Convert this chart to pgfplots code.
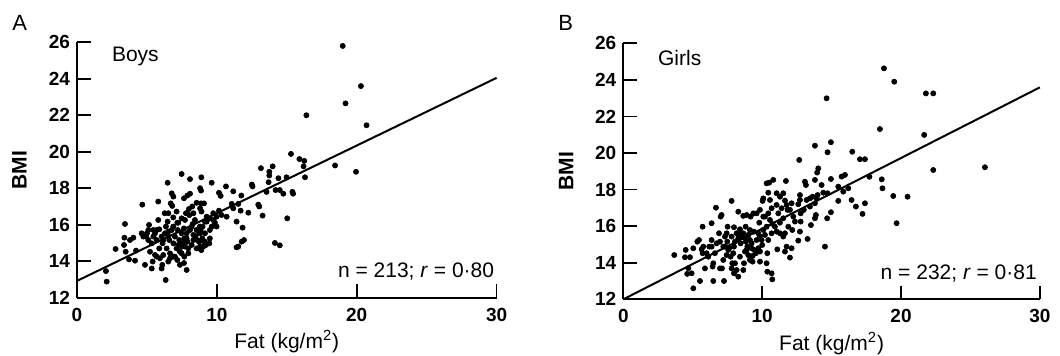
\documentclass[border=0pt]{standalone}
\usepackage{pgfplots}
\pgfplotsset{compat=1.18}
\usepackage{fontspec}
\setmainfont{Liberation Sans}
\newcommand\txt{\fontsize{10.5pt}{12pt}\selectfont}
\newcommand\tck{\fontsize{9.5pt}{11pt}\selectfont\bfseries}

\pgfplotsset{
  panel/.style={
    scale only axis,
    xmin=0, xmax=30, ymin=12, ymax=26,
    axis x line=bottom, axis y line=left,
    axis line style={-, line width=0.9pt},
    xtick={0,10,20,30}, ytick={12,14,...,26},
    tick align=inside,
    major tick length=6.8pt,
    tick style={line width=0.8pt, black},
    /pgf/number format/assume math mode=true,
    ticklabel style={font=\tck},
    xticklabel style={yshift=-1.5pt},
    ylabel={\bfseries BMI},
    ylabel style={font=\fontsize{10.5pt}{12pt}\selectfont, at={(axis description cs:-0.137,0.5)}, anchor=center, rotate=0},
    xlabel={Fat (kg/m\textsuperscript{2})},
    xlabel style={font=\txt, at={(axis description cs:0.5,-0.172)}, anchor=center},
    clip=false,
  },
  dots/.style={only marks, mark=*, mark size=1.3pt, black, mark options={fill=black, draw=black, line width=0.3pt}},
  fit/.style={no marks, black, line width=1pt},
}

\begin{document}
\begin{tikzpicture}
\useasboundingbox (0,0) rectangle (530pt,178pt);
\node[anchor=west, font=\fontsize{11pt}{12pt}\selectfont, inner sep=0pt] at (6pt,166.5pt) {A};
\node[anchor=west, font=\fontsize{11pt}{12pt}\selectfont, inner sep=0pt] at (279pt,166.5pt) {B};

% Panel A: Boys
\begin{axis}[panel, at={(38.5pt,29.15pt)}, anchor=south west, width=209.8pt, height=127.7pt]
\addplot[dots] coordinates {
(19.0,25.8) (20.3,23.6) (19.2,22.65) (20.7,21.45) (16.4,22.0) (18.45,19.25) (19.95,18.9)
(15.3,19.88) (15.9,19.6) (16.25,19.5) (16.2,19.2) (16.3,18.6) (15.4,17.8) (15.45,17.7) (15.03,16.35)
(13.15,19.1) (13.99,19.2) (13.75,18.9) (13.75,18.7) (14.4,18.55) (14.98,18.6) (13.7,18.33)
(14.2,17.9) (14.5,17.9) (14.75,17.7) (13.55,17.8) (12.5,18.2) (12.55,18.1) (12.96,17.1) (13.03,17.0)
(13.27,16.5) (14.15,15.0) (14.5,14.87) (11.75,17.6) (11.17,17.83) (10.65,18.1) (10.15,17.75)
(10.27,17.58) (9.63,18.3) (8.89,18.6) (8.8,18.0) (8.87,17.87) (8.08,18.5) (7.48,18.78) (8.08,17.7)
(7.89,17.6) (6.48,18.3) (5.81,17.27) (4.67,17.1) (6.7,17.17) (6.81,17.03) (6.27,16.63) (7.12,16.72)
(6.88,16.4) (7.48,16.35) (7.72,16.26) (8.0,16.86) (8.24,17.0) (8.55,17.2) (8.87,17.17) (9.08,17.17)
(8.8,16.9) (8.9,16.72) (9.27,16.44) (9.5,16.35) (9.74,16.63) (9.98,16.44) (10.15,16.77) (10.34,16.53)
(10.7,16.44) (11.06,17.14) (11.17,16.9) (11.53,17.14) (11.7,16.77) (12.25,16.66) (11.41,16.17)
(11.84,15.84) (11.94,15.16) (11.77,15.07) (11.53,14.8) (11.41,14.76)
(3.43,16.04) (3.39,15.29) (3.36,14.89) (2.76,14.67) (3.79,15.16) (4.03,15.29) (3.48,14.52) (3.72,14.1)
(4.15,14.03) (4.22,14.58) (2.07,13.46) (2.12,12.88) (4.86,13.8) (5.41,13.98) (5.34,13.6) (6.1,13.8)
(6.05,13.6) (6.34,12.97) (7.36,13.8) (7.65,13.9) (7.84,13.52)
(4.62,15.53) (4.74,15.35) (5.15,15.99) (5.1,15.71) (5.1,15.16) (5.22,14.52) (5.58,15.53) (5.7,15.16)
(5.7,14.25) (5.81,16.26) (5.88,15.75) (5.88,14.7) (6.05,15.35) (6.12,14.98) (6.17,14.34) (6.29,15.53)
(6.41,14.7) (6.48,16.17) (6.53,15.62) (6.6,15.16) (6.65,14.43) (6.77,15.71) (6.89,14.98) (7.0,14.25)
(7.0,15.35) (7.12,14.7) (7.2,15.71) (7.31,15.16) (7.36,14.52) (7.48,15.53) (7.55,14.98) (7.65,15.8)
(7.67,15.25) (7.72,14.8) (7.84,15.53) (7.89,15.07) (7.96,14.7) (8.08,15.71) (8.27,16.04) (8.32,15.44)
(8.55,15.71) (8.6,15.16) (8.79,15.53) (8.79,14.8) (8.84,15.71) (9.03,14.8) (8.98,15.9) (9.15,15.53)
(9.27,16.17) (9.5,15.71) (9.5,15.25) (9.46,14.98) (9.63,15.9) (9.74,16.26) (9.86,16.11)
(6.89,17.54) (6.77,17.72) (7.65,17.45) (7.79,16.63) (8.03,16.53) (8.32,16.63) (8.43,16.26) (7.24,16.11)
(6.36,15.9) (6.53,16.63) (5.7,15.71) (5.46,15.35) (5.34,14.98) (4.94,15.35) (6.88,15.9) (7.17,16.11)
(8.48,15.38) (8.72,15.07) (8.96,15.25) (9.08,15.07) (9.22,14.89) (8.74,14.7) (8.89,14.61) (8.2,14.89)
(7.48,14.43) (6.88,14.25) (6.53,13.98) (5.93,14.16) (5.58,14.34) (6.65,14.16) (7.17,14.07) (7.67,14.25)
(7.96,14.43) (8.2,15.9) (8.79,15.9) (9.15,16.17) (9.98,15.9)
(6.17,15.16) (7.84,15.25) (7.48,14.8) (8.55,14.7) (9.15,15.07) (6.53,15.35) (7.24,14.89) (5.46,15.71)
(5.0,15.53) (8.32,15.16)
};
\addplot[fit] coordinates {(0,12.92) (30,24.05)};
\node[anchor=west, font=\txt] at (axis cs:2.0,25.2) {Boys};
\node[anchor=east, font=\txt, inner sep=0pt] at (axis cs:29.85,13.43) {n = 213; \textit{r} = 0·80};
\end{axis}

% Panel B: Girls
\begin{axis}[panel, at={(311.65pt,28.35pt)}, anchor=south west, width=208.3pt, height=128pt]
\addplot[dots] coordinates {
(18.77,24.63) (19.51,23.9) (21.79,23.26) (22.32,23.26) (14.64,22.99) (18.48,21.31) (21.67,20.99)
(26.04,19.22) (22.32,19.07) (13.8,20.4) (14.95,20.59) (14.71,20.04) (12.67,19.62) (16.49,20.07)
(17.04,19.66) (17.4,19.66) (17.72,18.7) (18.61,18.56) (18.66,18.07) (19.44,17.65) (20.47,17.61)
(19.68,16.16) (17.4,17.25) (17.23,16.67) (16.75,17.07) (16.44,17.43) (15.96,18.8) (15.72,18.71)
(15.84,17.89) (16.2,18.07) (15.48,18.16) (15.48,17.38) (14.95,18.58) (14.95,16.76) (14.68,16.43)
(14.52,14.88) (14.04,19.16) (13.96,18.93) (13.8,18.53) (14.28,18.25) (13.99,17.7) (13.92,17.52)
(13.8,17.25) (13.87,16.61) (13.8,16.43) (13.44,17.52) (13.44,17.07) (13.51,16.06) (13.27,15.3)
(13.08,18.43) (13.15,18.25) (12.72,17.7) (12.72,17.43) (12.6,17.2) (12.77,16.7) (12.77,16.25)
(12.72,15.7) (12.6,15.21) (12.12,17.25) (12.17,15.79) (12.12,14.79) (12.0,14.28) (11.71,18.47)
(11.52,17.8) (11.64,17.4) (11.76,17.16) (11.83,16.89) (11.52,16.43) (11.64,15.61) (11.64,14.61)
(11.04,17.16) (11.16,16.7) (11.28,16.19) (11.04,15.7) (11.09,14.73) (10.8,18.53) (10.51,18.38)
(10.32,18.34) (10.44,17.83) (10.08,17.52) (10.03,17.38) (10.68,16.98) (10.44,16.7) (10.2,16.52)
(10.56,16.34) (10.75,16.12) (10.32,15.97) (10.08,15.79) (10.2,15.52) (10.44,15.24) (10.37,14.52)
(10.32,13.97) (10.37,13.51) (10.73,13.09) (9.79,16.19) (9.6,16.7) (9.36,16.7) (9.17,16.52)
(8.88,16.61) (8.64,16.56) (8.28,16.79) (7.8,17.38) (6.67,17.01) (7.01,16.52) (7.08,16.61)
(6.36,16.16) (5.71,15.97) (7.51,15.97) (7.97,15.94) (8.4,15.83) (8.81,15.97) (9.12,15.79) (9.41,15.7)
(9.72,15.61) (9.84,15.43) (9.6,15.24) (9.24,15.06) (8.93,14.88) (8.76,14.61) (9.0,14.42) (9.31,14.37)
(9.84,14.06) (9.31,14.06) (9.12,14.15) (8.69,13.97) (8.64,13.6) (8.16,13.6) (8.28,13.24) (7.97,13.42)
(7.85,13.97) (7.73,14.33) (7.56,14.7) (7.32,14.88) (7.2,14.15) (7.1,13.69) (6.96,13.69) (7.25,13.0)
(6.43,13.79) (6.48,13.97) (6.48,13.0) (5.88,13.69) (5.52,13.0) (5.04,12.6) (4.92,13.42) (4.68,13.7)
(4.6,13.39) (3.67,14.42) (4.49,14.7) (4.44,14.3) (4.8,14.3) (5.04,14.79) (5.33,15.15) (5.45,15.24)
(5.64,14.73) (5.71,14.52) (6.0,14.52) (6.12,14.33) (6.36,15.24) (6.36,14.88) (6.6,14.52) (6.72,15.06)
(6.89,15.61) (6.96,15.15) (7.2,14.88) (7.32,15.43) (7.44,15.61) (7.49,15.15) (7.63,14.79) (7.8,15.43)
(7.97,14.88) (8.04,15.15) (8.16,15.61) (8.28,15.34) (8.35,15.61) (8.45,15.06) (8.59,15.43) (8.64,15.61)
(8.76,15.34) (8.83,15.15) (9.0,15.52) (9.12,15.24) (8.88,14.7) (9.24,14.79) (9.41,14.7) (9.55,14.52)
(9.72,14.79) (9.96,15.24) (10.0,14.97) (9.84,14.61) (8.04,13.97) (7.8,13.69) (8.4,14.33) (5.76,14.88)
(6.19,14.88) (7.92,14.52) (7.44,14.42) (10.68,13.42) (10.08,16.52) (9.84,16.89) (10.56,17.43)
(11.04,17.8) (11.28,17.61) (11.4,16.98) (12.0,16.89) (12.24,16.52) (12.36,16.25) (13.0,16.89)
(13.2,17.43) (13.63,17.61) (14.4,17.83) (14.71,17.8) (11.28,15.61) (11.52,15.43) (11.88,15.97)
(10.92,15.97) (10.68,15.61) (11.76,14.88)
};
\addplot[fit] coordinates {(0,12.0) (30,23.59)};
\node[anchor=west, font=\txt] at (axis cs:2.0,25.2) {Girls};
\node[anchor=east, font=\txt, inner sep=0pt] at (axis cs:29.8,13.42) {n = 232; \textit{r} = 0·81};
\end{axis}
\end{tikzpicture}
\end{document}
